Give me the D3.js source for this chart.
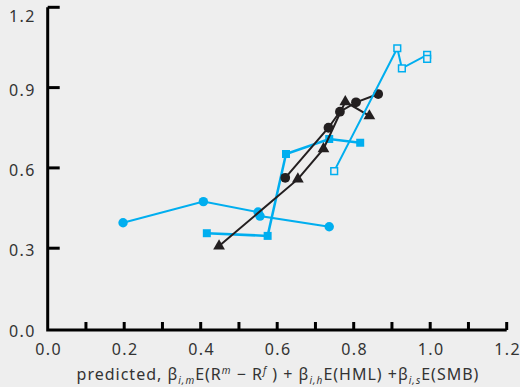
<!DOCTYPE html>
<html>
<head>
<meta charset="utf-8">
<script src="https://cdn.jsdelivr.net/npm/d3@7"></script>
<style>
  body { margin: 0; background: #eeeeee; }
  svg { display: block; font-family: "Noto Sans", sans-serif; }
</style>
</head>
<body>
<svg id="chart" width="520" height="387"></svg>
<script>
// dữ liệu
const blueCircles = [[0.197, 0.395], [0.407, 0.474], [0.550, 0.435], [0.555, 0.420], [0.736, 0.380]];
const blueSquares = [[0.416, 0.356], [0.575, 0.346], [0.623, 0.652], [0.736, 0.708], [0.817, 0.694]];
const openSquares = [[0.749, 0.588], [0.914, 1.047], [0.926, 0.972], [0.992, 1.022], [0.992, 1.007]];
const blackCircles = [[0.621, 0.563], [0.734, 0.750], [0.764, 0.810], [0.806, 0.845], [0.864, 0.876]];
const blackTriangles = [[0.448, 0.308], [0.654, 0.558], [0.721, 0.671], [0.778, 0.847], [0.841, 0.794]];

const xTicks = [0.0, 0.2, 0.4, 0.6, 0.8, 1.0, 1.2];
const xMinor = d3.range(0, 13).map(i => i / 10);
const yTicks = [0.0, 0.3, 0.6, 0.9, 1.2];

const blue = "#00aeef", black = "#231f20", textCol = "#333333";

const svg = d3.select("#chart");
const x = d3.scaleLinear().domain([0, 1.2]).range([47.7, 506.7]);
const y = d3.scaleLinear().domain([0, 1.2]).range([328.5, 7.3]);
const line = d3.line().x(d => x(d[0])).y(d => y(d[1]));

// Trục
const axisY = 330;
svg.append("path")
   .attr("d", `M${x(0)},${y(1.2)}V${axisY}H${x(1.2)}`)
   .attr("fill", "none").attr("stroke", "#000").attr("stroke-width", 3);

// vạch trục x (hướng lên)
svg.append("g").selectAll("line")
   .data(xMinor.slice(1)).enter().append("line")
     .attr("x1", d => x(d)).attr("x2", d => x(d))
     .attr("y1", axisY).attr("y2", axisY - 8)
     .attr("stroke", "#000").attr("stroke-width", 3);

// vạch trục y (hướng phải)
svg.append("g").selectAll("line")
   .data(yTicks.slice(1)).enter().append("line")
     .attr("x1", x(0)).attr("x2", x(0) + 12)
     .attr("y1", d => y(d)).attr("y2", d => y(d))
     .attr("stroke", "#000").attr("stroke-width", 3);

svg.append("g").selectAll("text")
   .data(yTicks).enter().append("text")
     .attr("x", 36).attr("y", d => d === 1.2 ? 22 : y(d) + 8)
     .attr("text-anchor", "end")
     .attr("fill", textCol).style("font-size", "16px").style("letter-spacing", "1.5px")
     .text(d => d3.format(".1f")(d));

svg.append("g").selectAll("text")
   .data(xTicks).enter().append("text")
     .attr("x", d => x(d) + 1).attr("y", 355)
     .attr("text-anchor", "middle")
     .attr("fill", textCol).style("font-size", "16px").style("letter-spacing", "1.5px")
     .text(d => d3.format(".1f")(d));

// Tiêu đề trục x
const title = svg.append("text")
   .attr("x", 278).attr("y", 380)
   .attr("text-anchor", "middle")
   .attr("fill", textCol).style("font-size", "16px").style("letter-spacing", "1px");
const parts = [
  ["predicted, β", 0], ["i,m", 1], ["E(R", 0], ["m", 2], [" − R", 0], ["f", 2],
  [" ) + β", 0], ["i,h", 1], ["E(HML) +β", 0], ["i,s", 1], ["E(SMB)", 0]
];
parts.forEach(([t, k], i) => {
  const ts = title.append("tspan").text(t);
  const prev = i > 0 ? parts[i - 1][1] : 0;
  const shift = (k === 1 ? 4 : k === 2 ? -6 : 0) - (prev === 1 ? 4 : prev === 2 ? -6 : 0);
  if (shift) ts.attr("dy", shift);
  if (k) ts.style("font-size", "10px").style("font-style", "italic");
});

// Chuỗi dữ liệu
function series(data, color, sym, size, open, width) {
  svg.append("path").datum(data)
     .attr("d", line).attr("fill", "none")
     .attr("stroke", color).attr("stroke-width", width);
  svg.append("g").selectAll("path")
     .data(data).enter().append("path")
       .attr("transform", d => `translate(${x(d[0])},${y(d[1])})`)
       .attr("d", d3.symbol().type(sym).size(size))
       .attr("fill", open ? "#eeeeee" : color)
       .attr("stroke", open ? color : "none")
       .attr("stroke-width", 1.5);
}

series(blueCircles, blue, d3.symbolCircle, 70, false, 2);
series(blueSquares, blue, d3.symbolSquare, 64, false, 2.5);
series(blackCircles, black, d3.symbolCircle, 75, false, 2);
series(blackTriangles, black, d3.symbolTriangle, 60, false, 2);
series(openSquares, blue, d3.symbolSquare, 45, true, 2);
</script>
</body>
</html>
